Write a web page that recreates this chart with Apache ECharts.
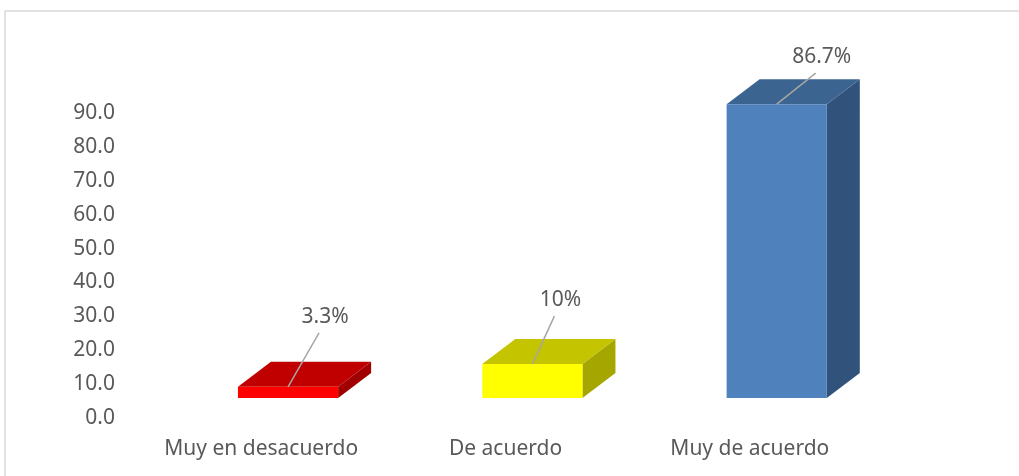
<!DOCTYPE html>
<html>
<head>
<meta charset="utf-8">
<script src="https://cdn.jsdelivr.net/npm/echarts@6/dist/echarts.min.js"></script>
<style>
  html, body { margin: 0; padding: 0; background: #fff; }
  #chart { width: 1019px; height: 476px; }
</style>
</head>
<body>
<div id="chart"></div>
<script>
  var categories = ['Muy en desacuerdo', 'De acuerdo', 'Muy de acuerdo'];
  var values = [3.3, 10, 86.7];
  var valueLabels = ['3.3%', '10%', '86.7%'];

  // front / top / side faces of each box
  var frontColors = ['#FF0000', '#FFFF00', '#4F81BD'];
  var topColors = ['#C00000', '#C4C400', '#3C6490'];
  var sideColors = ['#A00000', '#A6A600', '#31527A'];
  // where each data label sits relative to the top of the front face
  var labelOffsets = [[37, -70], [28, -64], [45, -47]];

  var textColor = '#595959';
  var fontFamily = '"Noto Sans", "Open Sans", sans-serif';
  var fontSize = 21;

  var myChart = echarts.init(document.getElementById('chart'));

  function renderBox(params, api) {
    var i = api.value(0);
    var v = api.value(1);
    var top = api.coord([i, v]);
    var base = api.coord([i, 0]);
    var band = api.size([1, 0])[0];
    var w = band * 0.41;
    var x0 = top[0] - band * 0.095;
    var x1 = x0 + w;
    var lift = 20;     // front face sits above the back-wall floor
    var dx = 33, dy = 25;
    var yT = top[1] - lift;
    var yB = base[1] - lift;
    var cx = (x0 + x1) / 2;
    var lx = cx + labelOffsets[i][0];
    var ly = yT + labelOffsets[i][1];
    return {
      type: 'group',
      children: [
        {
          type: 'polygon',
          shape: { points: [[x1, yB], [x1, yT], [x1 + dx, yT - dy], [x1 + dx, yB - dy]] },
          style: { fill: sideColors[i] }
        },
        {
          type: 'polygon',
          shape: { points: [[x0, yT], [x1, yT], [x1 + dx, yT - dy], [x0 + dx, yT - dy]] },
          style: { fill: topColors[i] }
        },
        {
          type: 'polygon',
          shape: { points: [[x0, yB], [x1, yB], [x1, yT], [x0, yT]] },
          style: { fill: frontColors[i] }
        },
        {
          type: 'line',
          shape: { x1: cx, y1: yT, x2: lx - 6, y2: ly + 16 },
          style: { stroke: '#A6A6A6', lineWidth: 1.5 }
        },
        {
          type: 'text',
          x: lx,
          y: ly,
          style: {
            text: valueLabels[i],
            fill: textColor,
            font: fontSize + 'px ' + fontFamily,
            textAlign: 'center',
            textVerticalAlign: 'middle'
          }
        }
      ]
    };
  }

  var option = {
    animation: false,
    graphic: [{
      type: 'rect',
      shape: { x: 5, y: 11, width: 1040, height: 500 },
      style: { fill: 'none', stroke: '#D9D9D9', lineWidth: 1.5 },
      silent: true
    }],
    grid: { left: 139, right: 147, top: 113, bottom: 58 },
    xAxis: {
      type: 'category',
      data: categories,
      axisLine: { show: false },
      axisTick: { show: false },
      axisLabel: {
        interval: 0,
        color: textColor, fontSize: fontSize, fontFamily: fontFamily, margin: 21
      }
    },
    yAxis: {
      type: 'value',
      min: 0,
      max: 90,
      interval: 10,
      splitLine: { show: false },
      axisLine: { show: false },
      axisTick: { show: false },
      axisLabel: {
        color: textColor, fontSize: fontSize, fontFamily: fontFamily, margin: 24,
        formatter: function (val) { return val.toFixed(1); }
      }
    },
    series: [{
      type: 'custom',
      renderItem: renderBox,
      clip: false,
      encode: { x: 0, y: 1 },
      data: values.map(function (v, i) { return [i, v]; })
    }]
  };
  myChart.setOption(option);
</script>
</body>
</html>
